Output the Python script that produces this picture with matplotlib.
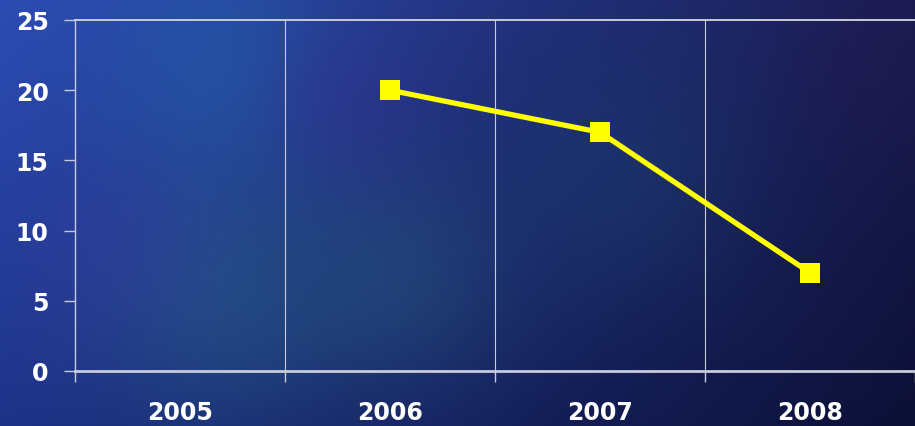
import numpy as np
import matplotlib
matplotlib.use("Agg")
import matplotlib.pyplot as plt
from matplotlib.colors import to_rgb

# data
years = ["2005", "2006", "2007", "2008"]
values = [np.nan, 20, 17, 7]
yticks = [0, 5, 10, 15, 20, 25]

W, H = 915, 427


def background():
    # smooth blue backdrop, corners blended plus a few soft blobs
    yy, xx = np.mgrid[0:H, 0:W]
    u = xx / (W - 1)
    v = yy / (H - 1)
    tl, tr = np.array(to_rgb("#2d4cb4")), np.array(to_rgb("#1a1c52"))
    bl, br = np.array(to_rgb("#1d3288")), np.array(to_rgb("#0d1036"))
    img = ((1 - u)[..., None] * (1 - v)[..., None] * tl
           + u[..., None] * (1 - v)[..., None] * tr
           + (1 - u)[..., None] * v[..., None] * bl
           + u[..., None] * v[..., None] * br)
    blobs = [
        (230, 70, 90, "#2068b0", 0.45),
        (220, 300, 90, "#2a6c88", 0.40),
        (400, 280, 80, "#2a6280", 0.35),
        (340, 100, 60, "#35288a", 0.35),
        (120, 250, 70, "#3a3aa5", 0.30),
        (620, 180, 90, "#1e4a78", 0.30),
        (880, 60, 60, "#2a1a50", 0.30),
    ]
    for cx, cy, r, c, a in blobs:
        w = a * np.exp(-((xx - cx) ** 2 + (yy - cy) ** 2) / (2 * r ** 2))
        img = img * (1 - w[..., None]) + np.array(to_rgb(c)) * w[..., None]
    return np.clip(img, 0, 1)


fig = plt.figure(figsize=(W / 100, H / 100), dpi=100)
bg = fig.add_axes([0, 0, 1, 1])
bg.imshow(background(), aspect="auto", extent=[0, 1, 0, 1])
bg.axis("off")

left, right = 75 / W, 1.0
bottom, top = 1 - 372 / H, 1 - 21 / H
ax = fig.add_axes([left, bottom, right - left, top - bottom])
ax.patch.set_alpha(0)

x = np.arange(len(years)) + 0.5
ax.plot(x, values, color="#ffff00", lw=3.8, marker="s", markersize=14,
        markeredgewidth=0, zorder=5, clip_on=False)

ax.set_xlim(0, len(years))
ax.set_ylim(0, 25)

line_col = "#c8ccd8"
ax.set_xticks(np.arange(len(years) + 1))
ax.set_xticklabels([])
ax.set_xticks(x, minor=True)
ax.set_xticklabels(years, minor=True)
ax.tick_params(axis="x", which="major", length=8, width=1, color=line_col)
ax.tick_params(axis="x", which="minor", length=0, pad=21, labelsize=17,
               labelcolor="white")
ax.set_yticks(yticks)
ax.tick_params(axis="y", length=8, width=1, color=line_col, pad=11,
               labelsize=17, labelcolor="white")
for lab in ax.get_xticklabels(minor=True) + ax.get_yticklabels():
    lab.set_fontweight("bold")

for xv in range(1, len(years)):
    ax.axvline(xv, color=line_col, lw=0.8, zorder=1)

ax.spines["right"].set_visible(False)
ax.spines["left"].set_color(line_col)
ax.spines["left"].set_linewidth(1.0)
ax.spines["top"].set_color(line_col)
ax.spines["top"].set_linewidth(1.4)
ax.spines["bottom"].set_color(line_col)
ax.spines["bottom"].set_linewidth(2.0)

fig.savefig("out.png", dpi=100)
